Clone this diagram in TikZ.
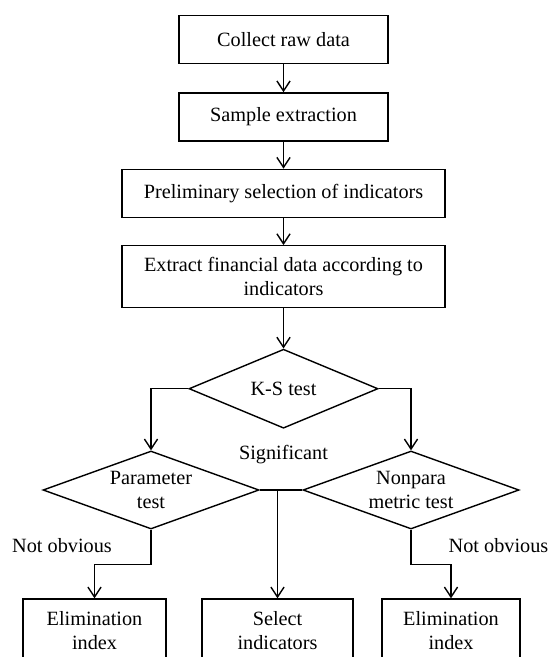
\documentclass[tikz,border=0pt]{standalone}
\usepackage{fontspec}
\setmainfont{Liberation Serif}
\usepackage{tikz}
\usetikzlibrary{shapes,positioning,arrows.meta}

\begin{document}
\begin{tikzpicture}[
    % Define node styles
    x = 0.025cm, y = -0.025cm,
    font = \fontsize{14.4}{17}\selectfont,
    line width = 1pt,
    box/.style={rectangle, draw, align=center, inner sep=0pt, minimum height=1.2cm},
    test/.style={diamond, draw, align=center, inner sep=0pt},
    endbox/.style={rectangle, draw, align=center, inner sep=0pt, minimum height=1.6cm},
    lbl/.style={inner sep=0pt},
    arr/.style={-{Straight Barb[length=2.5mm, width=3.3mm]}},
]

\useasboundingbox (0,0) rectangle (550,657);
\clip (0,0) rectangle (550,657);

% Main nodes
\node[box, minimum width=5.225cm] (raw) at (283.5,39.5) {Collect raw data};
\node[box, minimum width=5.225cm, below= 0.7cm of raw] (sample) {Sample extraction};
\node[box, minimum width=8.075cm, below= 0.675cm of sample] (prelim) {Preliminary selection of indicators};
\node[box, minimum width=8.075cm, minimum height=1.55cm, below= 0.675cm of prelim] (extract) {Extract financial data according to\\indicators};

\node[test, minimum width=4.725cm, minimum height=1.975cm, aspect=2.4, below= 1cm of extract] (ks) {K-S test};
\node[test, minimum width=5.4cm, minimum height=1.95cm, aspect=2.77] (param) at (151,490) {Parameter\\test};
\node[test, minimum width=5.4cm, minimum height=1.95cm, aspect=2.77] (nonpara) at (411,490) {Nonpara\\metric test};

\node[endbox, minimum width=3.575cm] (elimL) at (94.5,631) {Elimination\\index};
\node[endbox, minimum width=3.775cm] (select) at (277.5,631) {Select\\indicators};
\node[endbox, minimum width=3.45cm] (elimR) at (451,631) {Elimination\\index};

% Labels
\node[lbl] (sig) at (283.5,455) {Significant};
\node[lbl] (noL) at (62,546) {Not obvious};
\node[lbl] (noR) at (498.5,546) {Not obvious};

% Arrows for main flow
\draw[arr] (raw) -- (sample);
\draw[arr] (sample) -- (prelim);
\draw[arr] (prelim) -- (extract);
\draw[arr] (extract) -- (ks);

\draw[arr] (ks.west) -| (param.north);
\draw[arr] (ks.east) -| (nonpara.north);

\draw (param.east) -- (nonpara.west);
\draw[arr] (param.east -| select.north) -- (select.north);

\draw[arr] (param.south) -- ++(0,35) -| (elimL.north);
\draw[arr] (nonpara.south) -- ++(0,35) -| (elimR.north);

\end{tikzpicture}
\end{document}
